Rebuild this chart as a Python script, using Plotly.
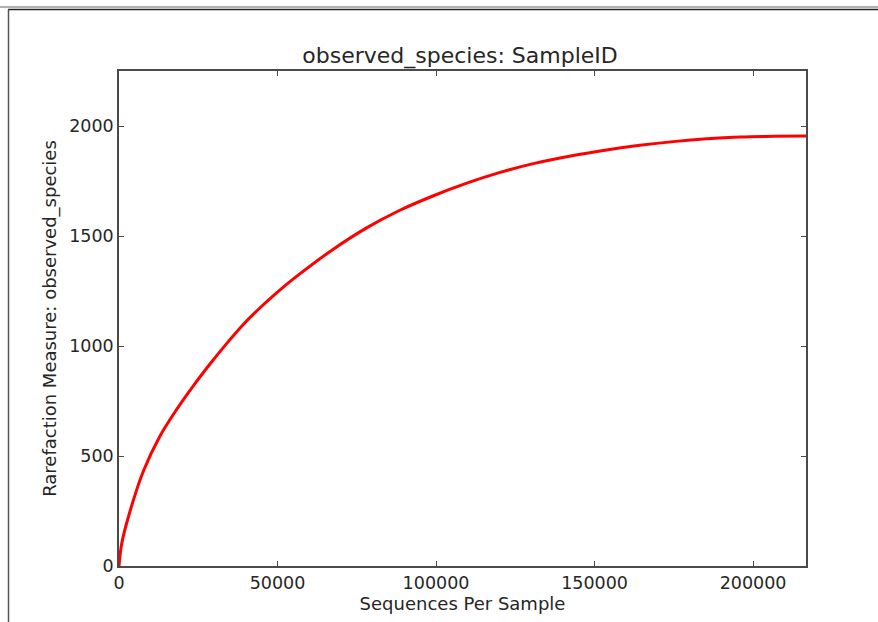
import plotly.graph_objects as go

# Rarefaction curve values
seqs_per_sample = [0, 900, 3500, 7700, 12900, 18200, 23500, 28700, 34000, 39200,
                   44500, 49800, 55000, 67600, 78100, 88600, 99200, 109700,
                   120200, 130700, 143300, 153800, 164300, 174800, 185400,
                   195900, 206400, 216700]
observed_species = [0, 105, 250, 432, 590, 712, 820, 918, 1012, 1098,
                    1174, 1243, 1305, 1440, 1537, 1617, 1683, 1740,
                    1789, 1829, 1866, 1891, 1912, 1929, 1942,
                    1950, 1953, 1955]

x_ticks = [0, 50000, 100000, 150000, 200000]
y_ticks = [0, 500, 1000, 1500, 2000]

W, H = 878, 622
L, R, T, B = 119, 806, 71, 566

def px(x):
    return (x - L) / (R - L)

def py(y):
    return (B - y) / (B - T)

FONT = "DejaVu Sans"
TXT = "#262626"
AX = "#4a4a4a"

fig = go.Figure()
fig.add_trace(go.Scatter(
    x=seqs_per_sample, y=observed_species, mode="lines",
    line=dict(color="#ff0000", width=3, shape="spline", smoothing=1.0),
    showlegend=False,
))

fig.update_layout(
    width=W, height=H,
    margin=dict(l=L, r=W - R, t=T, b=H - B),
    paper_bgcolor="white", plot_bgcolor="white",
    font=dict(family=FONT, color=TXT, size=17.5),
    title=dict(text="observed_species: SampleID", x=460 / W, xanchor="center",
               xref="container",
               y=1 - 55 / H, yanchor="middle", yref="container",
               font=dict(size=22, family=FONT, color=TXT)),
    xaxis=dict(range=[0, 216700], tickvals=x_ticks, ticktext=[str(v) for v in x_ticks],
               ticks="inside", ticklen=5, tickcolor=AX, tickwidth=1.2,
               showline=True, linecolor=AX, linewidth=1.5, mirror="ticks",
               showgrid=False, zeroline=False,
               tickfont=dict(size=17.5, family=FONT, color=TXT),
               title=dict(text="Sequences Per Sample", standoff=2,
                          font=dict(size=18, family=FONT, color=TXT))),
    yaxis=dict(range=[0, 2250], tickvals=y_ticks, ticktext=[str(v) for v in y_ticks],
               ticks="inside", ticklen=5, tickcolor=AX, tickwidth=1.2,
               showline=True, linecolor=AX, linewidth=1.5, mirror="ticks",
               showgrid=False, zeroline=False,
               tickfont=dict(size=17.5, family=FONT, color=TXT),
               title=dict(text="Rarefaction Measure: observed_species", standoff=8,
                          font=dict(size=18, family=FONT, color=TXT))),
    shapes=[
        dict(type="line", xref="paper", yref="paper",
             x0=px(0), x1=px(W), y0=py(7), y1=py(7),
             line=dict(color="#b0b0b0", width=2)),
        dict(type="line", xref="paper", yref="paper",
             x0=px(8), x1=px(W), y0=py(9.5), y1=py(9.5),
             line=dict(color="#222222", width=1.5)),
        dict(type="line", xref="paper", yref="paper",
             x0=px(8.5), x1=px(8.5), y0=py(9.5), y1=py(H),
             line=dict(color="#555555", width=1.5)),
    ],
)

fig.write_html("out.html", config={"displayModeBar": False},
               post_script="document.body.style.margin='0px';document.body.style.overflow='hidden';")
